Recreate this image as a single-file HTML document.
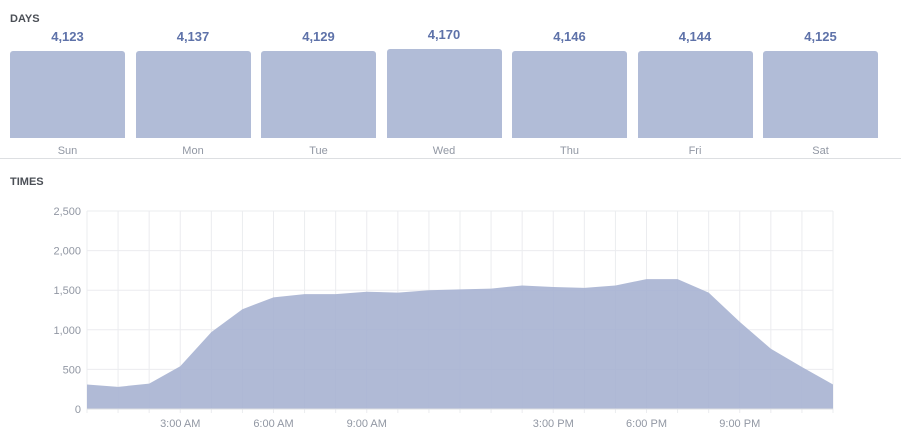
<!DOCTYPE html>
<html><head><meta charset="utf-8"><style>
body{margin:0;width:901px;height:431px;background:#fff;font-family:"Liberation Sans",sans-serif;overflow:hidden;position:relative}
.h{position:absolute;left:10px;font-size:11px;font-weight:bold;color:#4b4f56}
.bar{position:absolute;background:#b1bcd7;border-radius:3px 3px 0 0;width:115px}
.v{position:absolute;width:115px;text-align:center;font-size:13px;font-weight:bold;color:#5e72a9}
.d{position:absolute;width:115px;text-align:center;font-size:11px;color:#9197a3}
</style></head><body>
<div class="h" style="top:13px">DAYS</div>
<div class="h" style="top:176px">TIMES</div>
<div style="position:absolute;left:0;top:158px;width:901px;height:1px;background:#dddfe2"></div>
<div id="days"></div>
<script>
(function(){
var vals=["4,123","4,137","4,129","4,170","4,146","4,144","4,125"],names=["Sun","Mon","Tue","Wed","Thu","Fri","Sat"];
var h="";for(var i=0;i<7;i++){var x=10+i*125.5,t=i==3?49:51;
h+='<div class="v" style="left:'+x+'px;top:'+(t-22)+'px">'+vals[i]+'</div><div class="bar" style="left:'+x+'px;top:'+t+'px;height:'+(138-t)+'px"></div><div class="d" style="left:'+x+'px;top:145px">'+names[i]+'</div>';}
document.getElementById("days").innerHTML=h;
})();
</script>
<svg width="901" height="431" style="position:absolute;left:0;top:0" id="s"></svg>
<script>
(function(){
var d=[310,280,320,540,970,1260,1410,1450,1450,1480,1470,1500,1510,1520,1560,1540,1530,1560,1640,1640,1470,1100,760,530,310];
var x0=87,x1=833,y0=409,y1=211,sx=(x1-x0)/24;function Y(v){return y0-(v/2500)*(y0-y1)}
var s="";
for(var i=0;i<=24;i++){var x=x0+i*sx;s+='<line x1="'+x+'" y1="'+y1+'" x2="'+x+'" y2="'+(y0+4)+'" stroke="#ebecef"/>';}
for(var k=0;k<=5;k++){var y=Y(k*500);s+='<line x1="'+x0+'" y1="'+y+'" x2="'+x1+'" y2="'+y+'" stroke="#ebecef"/><text x="81" y="'+(y+4)+'" text-anchor="end" font-size="11" fill="#9197a3" font-family="Liberation Sans">'+(k==0?"0":(k*500).toLocaleString("en-US"))+'</text>';}
var p="M"+x0+","+y0;for(var i=0;i<25;i++)p+=" L"+(x0+i*sx)+","+Y(d[i]);p+=" L"+x1+","+y0+"Z";
s+='<path d="'+p+'" fill="#a7b3d1" fill-opacity="0.9"/>';
s+='<line x1="'+x0+'" y1="'+y0+'" x2="'+x1+'" y2="'+y0+'" stroke="#dddfe2"/>';
var labs={3:"3:00 AM",6:"6:00 AM",9:"9:00 AM",15:"3:00 PM",18:"6:00 PM",21:"9:00 PM"};
for(var k in labs)s+='<text x="'+(x0+k*sx)+'" y="427" text-anchor="middle" font-size="11" fill="#9197a3" font-family="Liberation Sans">'+labs[k]+'</text>';
document.getElementById("s").innerHTML=s;
})();
</script>
</body></html>
